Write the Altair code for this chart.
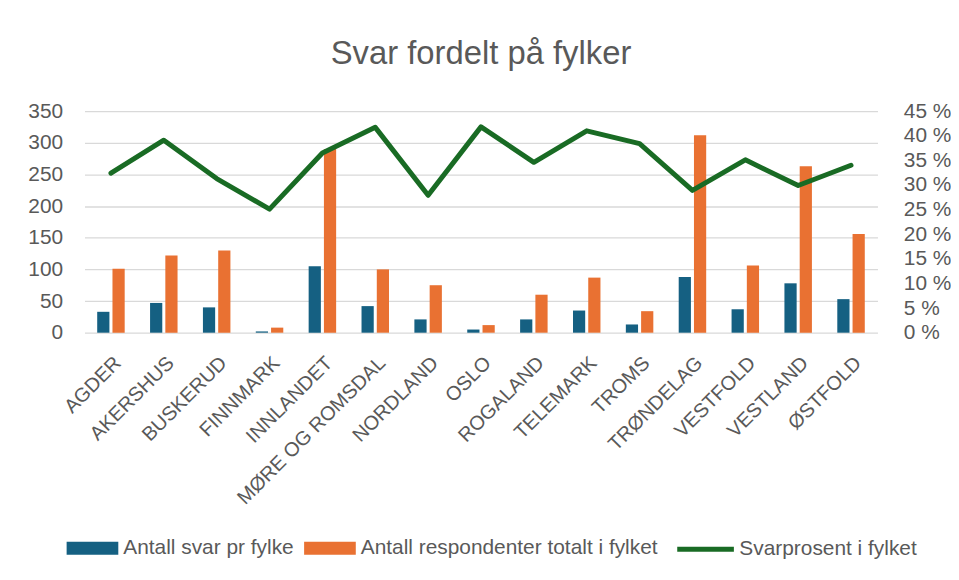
import altair as alt
import pandas as pd

fylker = ["AGDER", "AKERSHUS", "BUSKERUD", "FINNMARK", "INNLANDET", "MØRE OG ROMSDAL",
          "NORDLAND", "OSLO", "ROGALAND", "TELEMARK", "TROMS", "TRØNDELAG",
          "VESTFOLD", "VESTLAND", "ØSTFOLD"]
svar = [33, 47, 40, 2, 105, 42, 21, 5, 21, 35, 13, 88, 37, 78, 53]
respondenter = [101, 122, 130, 8, 290, 100, 75, 12, 60, 87, 34, 312, 106, 263, 156]
svarprosent = [32.4, 39.1, 31.3, 25.1, 36.5, 41.7, 27.9, 41.8, 34.6, 41.0, 38.4, 28.9, 35.1, 29.9, 34.0]

serier = ["Antall svar pr fylke", "Antall respondenter totalt i fylket", "Svarprosent i fylket"]
farger = ["#156082", "#E97132", "#196B24"]

FONT = "Liberation Sans"
GREY = "#595959"

rows = []
for f, a, b in zip(fylker, svar, respondenter):
    rows.append({"fylke": f, "serie": serier[0], "verdi": a})
    rows.append({"fylke": f, "serie": serier[1], "verdi": b})
bar_df = pd.DataFrame(rows)
line_df = pd.DataFrame({"fylke": fylker, "prosent": svarprosent, "serie": serier[2]})

x_enc = alt.X(
    "fylke:N", sort=fylker,
    scale=alt.Scale(paddingInner=0.48, paddingOuter=0.24),
    axis=alt.Axis(title=None, labelAngle=-45, labelFontSize=20, labelColor=GREY,
                  labelFont=FONT, ticks=False, domain=False, grid=False,
                  labelPadding=20, labelLimit=300),
)

bars = alt.Chart(bar_df).mark_bar().encode(
    x=x_enc,
    xOffset=alt.XOffset("serie:N", sort=serier[:2], scale=alt.Scale(paddingInner=0.2)),
    y=alt.Y("verdi:Q", scale=alt.Scale(domain=[0, 350], nice=False),
            axis=alt.Axis(values=list(range(0, 351, 50)), title=None, labelFontSize=21,
                          labelColor=GREY, labelFont=FONT, ticks=False, domain=False,
                          gridColor="#D9D9D9", gridWidth=1.3, labelPadding=22)),
    color=alt.Color("serie:N", scale=alt.Scale(domain=serier[:2], range=farger[:2]),
                    legend=alt.Legend(
                        title=None, orient="none", legendX=-18, legendY=414,
                        direction="horizontal", labelFont=FONT, labelFontSize=21,
                        labelColor=GREY, labelLimit=400, labelOffset=5,
                        columnPadding=10, symbolSize=2704, symbolStrokeWidth=0,
                        symbolType="M-1,-0.25H1V0.25H-1Z", symbolOpacity=1,
                    )),
)

line = alt.Chart(line_df).mark_line(
    strokeWidth=5, strokeCap="round", strokeJoin="round"
).encode(
    x=x_enc,
    y=alt.Y("prosent:Q", scale=alt.Scale(domain=[0, 45], nice=False),
            axis=alt.Axis(orient="right", values=list(range(0, 46, 5)), title=None,
                          labelExpr="datum.value + ' %'", labelFontSize=21,
                          labelColor=GREY, labelFont=FONT, ticks=False, domain=False,
                          grid=False, labelPadding=26)),
    stroke=alt.Stroke("serie:N", scale=alt.Scale(domain=[serier[2]], range=[farger[2]]),
                      legend=alt.Legend(
                          title=None, orient="none", legendX=594, legendY=410,
                          direction="horizontal", labelFont=FONT, labelFontSize=21,
                          labelColor=GREY, labelLimit=400, labelOffset=3,
                          symbolType="stroke", symbolSize=3249, symbolStrokeWidth=5,
                      )),
)

chart = alt.layer(bars, line).resolve_scale(y="independent").properties(
    width=798, height=223,
    autosize=alt.AutoSizeParams(type="none"),
    padding={"left": 77, "top": 102, "right": 74, "bottom": 230},
    background="white",
    title=alt.TitleParams("Svar fordelt på fylker", fontSize=33, font=FONT, color=GREY,
                          fontWeight="normal", anchor="middle", frame="group",
                          baseline="alphabetic", offset=3),
).configure_view(stroke=None)

chart.save("out.html", embed_options={"renderer": "svg", "actions": False})
